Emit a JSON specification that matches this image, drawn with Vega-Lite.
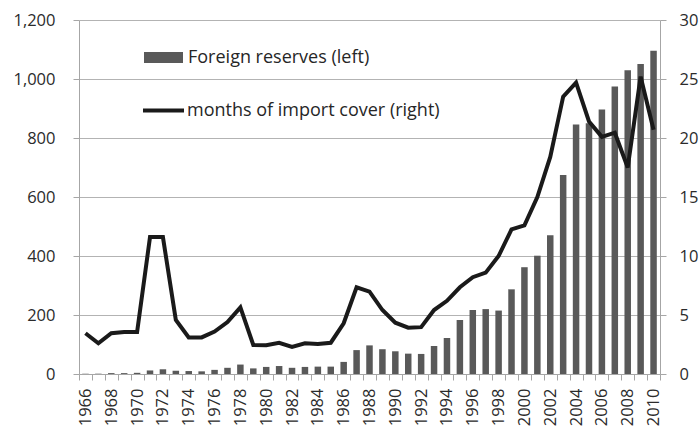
{
  "$schema": "https://vega.github.io/schema/vega-lite/v6.json",
  "width": 581,
  "height": 354,
  "autosize": "none",
  "padding": {"left": 79, "top": 20, "right": 39, "bottom": 55},
  "background": "white",
  "data": {"values": [
    {"year": 1966, "reserves": 1, "months": 3.45},
    {"year": 1967, "reserves": 1, "months": 2.6},
    {"year": 1968, "reserves": 3, "months": 3.45},
    {"year": 1969, "reserves": 3, "months": 3.56},
    {"year": 1970, "reserves": 4, "months": 3.56},
    {"year": 1971, "reserves": 12, "months": 11.6},
    {"year": 1972, "reserves": 16, "months": 11.6},
    {"year": 1973, "reserves": 11, "months": 4.58},
    {"year": 1974, "reserves": 10, "months": 3.1},
    {"year": 1975, "reserves": 9, "months": 3.1},
    {"year": 1976, "reserves": 14, "months": 3.6},
    {"year": 1977, "reserves": 21, "months": 4.4},
    {"year": 1978, "reserves": 32, "months": 5.65},
    {"year": 1979, "reserves": 19, "months": 2.46},
    {"year": 1980, "reserves": 24, "months": 2.43},
    {"year": 1981, "reserves": 27, "months": 2.65},
    {"year": 1982, "reserves": 21, "months": 2.3},
    {"year": 1983, "reserves": 24, "months": 2.6},
    {"year": 1984, "reserves": 25, "months": 2.55},
    {"year": 1985, "reserves": 25, "months": 2.65},
    {"year": 1986, "reserves": 41, "months": 4.3},
    {"year": 1987, "reserves": 81, "months": 7.35},
    {"year": 1988, "reserves": 97, "months": 6.98},
    {"year": 1989, "reserves": 84, "months": 5.42},
    {"year": 1990, "reserves": 77, "months": 4.35},
    {"year": 1991, "reserves": 69, "months": 3.93},
    {"year": 1992, "reserves": 68, "months": 3.97},
    {"year": 1993, "reserves": 95, "months": 5.42},
    {"year": 1994, "reserves": 122, "months": 6.2},
    {"year": 1995, "reserves": 183, "months": 7.35},
    {"year": 1996, "reserves": 217, "months": 8.2},
    {"year": 1997, "reserves": 220, "months": 8.59},
    {"year": 1998, "reserves": 215, "months": 10.0},
    {"year": 1999, "reserves": 287, "months": 12.26},
    {"year": 2000, "reserves": 362, "months": 12.6},
    {"year": 2001, "reserves": 401, "months": 15.0},
    {"year": 2002, "reserves": 470, "months": 18.4},
    {"year": 2003, "reserves": 675, "months": 23.5},
    {"year": 2004, "reserves": 846, "months": 24.7},
    {"year": 2005, "reserves": 850, "months": 21.4},
    {"year": 2006, "reserves": 897, "months": 20.1},
    {"year": 2007, "reserves": 975, "months": 20.45},
    {"year": 2008, "reserves": 1030, "months": 17.5},
    {"year": 2009, "reserves": 1051, "months": 25.2},
    {"year": 2010, "reserves": 1096, "months": 20.7}
  ]},
  "config": {
    "view": {"stroke": null},
    "font": "Open Sans",
    "axis": {
      "labelFont": "Open Sans",
      "labelFontSize": 16.5,
      "labelColor": "#2b2b2b",
      "domainColor": "#a6a6a6",
      "tickColor": "#a6a6a6",
      "gridColor": "#b3b3b3",
      "gridOpacity": 1,
      "domainWidth": 1,
      "tickWidth": 1
    }
  },
  "layer": [
    {
      "mark": {"type": "bar", "size": 6.5},
      "encoding": {
        "x": {
          "field": "year",
          "type": "ordinal",
          "scale": {"paddingInner": 0, "paddingOuter": 0},
          "axis": {
            "title": null,
            "labelAngle": -90,
            "labelExpr": "datum.value % 2 == 0 ? datum.label : ''",
            "tickBand": "extent",
            "tickSize": 6,
            "labelPadding": 8,
            "grid": false
          }
        },
        "y": {
          "field": "reserves",
          "type": "quantitative",
          "scale": {"domain": [0, 1200]},
          "axis": {
            "title": null,
            "values": [0, 200, 400, 600, 800, 1000, 1200],
            "format": ",.0f",
            "grid": true,
            "tickSize": 6,
            "labelPadding": 18
          }
        },
        "fill": {
          "datum": "Foreign reserves (left)",
          "scale": {"range": ["#595959"]},
          "legend": {
            "title": null,
            "orient": "none",
            "legendX": 65,
            "legendY": 18,
            "symbolType": "M-1,-0.28H1V0.28H-1Z",
            "symbolSize": 1521,
            "symbolStrokeWidth": 0,
            "labelFont": "Open Sans",
            "labelFontSize": 18,
            "labelColor": "#262626",
            "labelOffset": 5,
            "labelLimit": 400
          }
        }
      }
    },
    {
      "mark": {"type": "line", "strokeWidth": 4},
      "encoding": {
        "x": {"field": "year", "type": "ordinal"},
        "y": {
          "field": "months",
          "type": "quantitative",
          "scale": {"domain": [0, 30]},
          "axis": {
            "title": null,
            "orient": "right",
            "values": [0, 5, 10, 15, 20, 25, 30],
            "grid": false,
            "tickSize": 6,
            "labelPadding": 13
          }
        },
        "stroke": {
          "datum": "months of import cover (right)",
          "scale": {"range": ["#1a1a1a"]},
          "legend": {
            "title": null,
            "orient": "none",
            "legendX": 62,
            "legendY": 68,
            "symbolType": "stroke",
            "symbolSize": 1681,
            "symbolStrokeWidth": 4,
            "labelFont": "Open Sans",
            "labelFontSize": 18,
            "labelColor": "#262626",
            "labelOffset": 1,
            "labelLimit": 400
          }
        }
      }
    }
  ],
  "resolve": {"scale": {"y": "independent"}}
}
